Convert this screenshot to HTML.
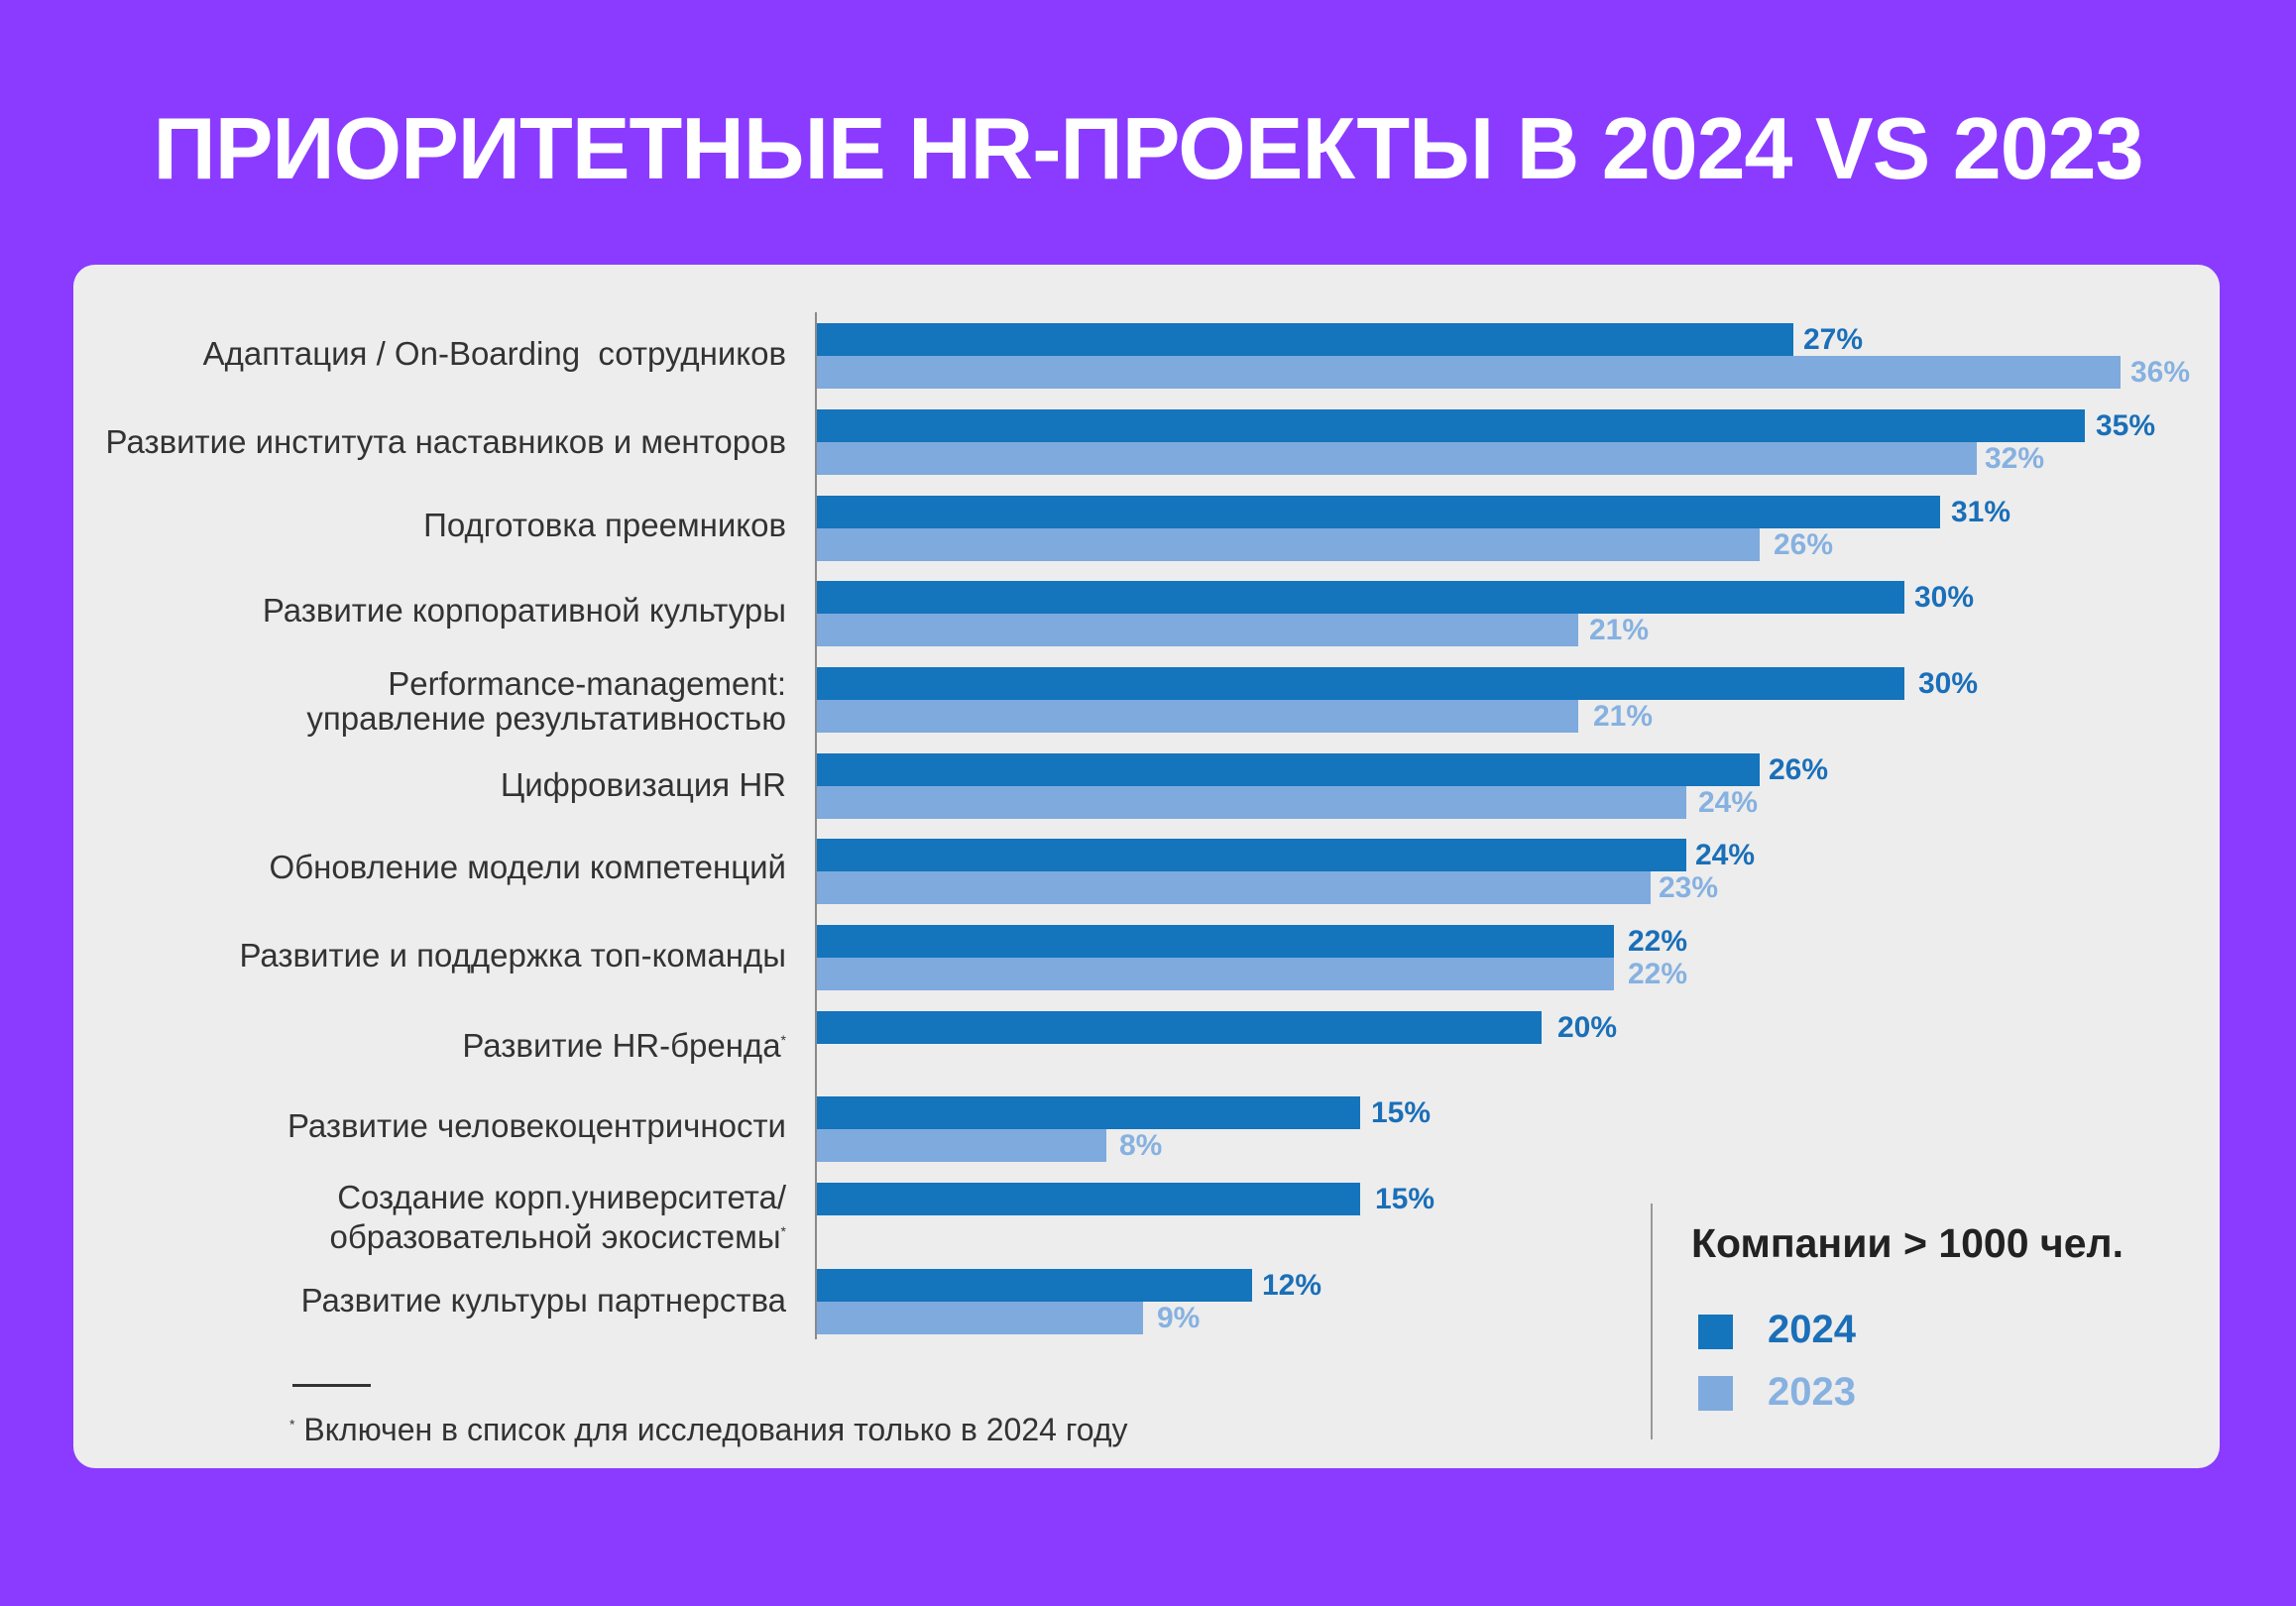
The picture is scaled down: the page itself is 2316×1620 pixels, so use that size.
<!DOCTYPE html>
<html><head><meta charset="utf-8"><style>
body{margin:0;width:2316px;height:1620px;background:#8a3bff;position:relative;overflow:hidden;font-family:"Liberation Sans","DejaVu Sans",sans-serif}
.t{position:absolute;left:0;width:2316px;top:95px;text-align:center;color:#fff;font-weight:bold;font-size:88px;letter-spacing:-1px;line-height:110px}
.card{position:absolute;left:74px;top:267px;width:2165px;height:1214px;background:#ededed;border-radius:22px}
.ax{position:absolute;left:822px;top:315px;width:2px;height:1036px;background:#8a8a8a}
.b{position:absolute;left:824px;height:33px}
.d{background:#1474bc}.l{background:#7eaade}
.v{position:absolute;font-weight:bold;font-size:30px;line-height:33px}
.vd{color:#1a6fb8}.vl{color:#86b1e0}
.lb{position:absolute;right:1523px;text-align:right;color:#333;font-size:33px;line-height:35px;white-space:nowrap}
</style></head><body>
<div class="t">ПРИОРИТЕТНЫЕ HR-ПРОЕКТЫ В 2024 VS 2023</div>
<div class="card"></div>
<div class="ax"></div>

<div class="lb" style="top:339px">Адаптация / On-Boarding&nbsp; сотрудников</div>
<div class="b d" style="top:326px;width:985px"></div><div class="v vd" style="top:326px;left:1819px">27%</div>
<div class="b l" style="top:359px;width:1315px"></div><div class="v vl" style="top:359px;left:2149px">36%</div>

<div class="lb" style="top:428px">Развитие института наставников и менторов</div>
<div class="b d" style="top:413px;width:1279px"></div><div class="v vd" style="top:413px;left:2114px">35%</div>
<div class="b l" style="top:446px;width:1170px"></div><div class="v vl" style="top:446px;left:2002px">32%</div>

<div class="lb" style="top:512px">Подготовка преемников</div>
<div class="b d" style="top:500px;width:1133px"></div><div class="v vd" style="top:500px;left:1968px">31%</div>
<div class="b l" style="top:533px;width:951px"></div><div class="v vl" style="top:533px;left:1789px">26%</div>

<div class="lb" style="top:598px">Развитие корпоративной культуры</div>
<div class="b d" style="top:586px;width:1097px"></div><div class="v vd" style="top:586px;left:1931px">30%</div>
<div class="b l" style="top:619px;width:768px"></div><div class="v vl" style="top:619px;left:1603px">21%</div>

<div class="lb" style="top:672px">Performance-management:<br>управление результативностью</div>
<div class="b d" style="top:673px;width:1097px"></div><div class="v vd" style="top:673px;left:1935px">30%</div>
<div class="b l" style="top:706px;width:768px"></div><div class="v vl" style="top:706px;left:1607px">21%</div>

<div class="lb" style="top:774px">Цифровизация HR</div>
<div class="b d" style="top:760px;width:951px"></div><div class="v vd" style="top:760px;left:1784px">26%</div>
<div class="b l" style="top:793px;width:877px"></div><div class="v vl" style="top:793px;left:1713px">24%</div>

<div class="lb" style="top:857px">Обновление модели компетенций</div>
<div class="b d" style="top:846px;width:877px"></div><div class="v vd" style="top:846px;left:1710px">24%</div>
<div class="b l" style="top:879px;width:841px"></div><div class="v vl" style="top:879px;left:1673px">23%</div>

<div class="lb" style="top:946px">Развитие и поддержка топ-команды</div>
<div class="b d" style="top:933px;width:804px"></div><div class="v vd" style="top:933px;left:1642px">22%</div>
<div class="b l" style="top:966px;width:804px"></div><div class="v vl" style="top:966px;left:1642px">22%</div>

<div class="lb" style="top:1032px">Развитие HR-бренда<sup style="font-size:14px">*</sup></div>
<div class="b d" style="top:1020px;width:731px"></div><div class="v vd" style="top:1020px;left:1571px">20%</div>

<div class="lb" style="top:1118px">Развитие человекоцентричности</div>
<div class="b d" style="top:1106px;width:548px"></div><div class="v vd" style="top:1106px;left:1383px">15%</div>
<div class="b l" style="top:1139px;width:292px"></div><div class="v vl" style="top:1139px;left:1129px">8%</div>

<div class="lb" style="top:1190px">Создание корп.университета/<br>образовательной экосистемы<sup style="font-size:14px">*</sup></div>
<div class="b d" style="top:1193px;width:548px"></div><div class="v vd" style="top:1193px;left:1387px">15%</div>

<div class="lb" style="top:1294px">Развитие культуры партнерства</div>
<div class="b d" style="top:1280px;width:439px"></div><div class="v vd" style="top:1280px;left:1273px">12%</div>
<div class="b l" style="top:1313px;width:329px"></div><div class="v vl" style="top:1313px;left:1167px">9%</div>

<div style="position:absolute;left:295px;top:1396px;width:79px;height:3px;background:#333"></div>
<div style="position:absolute;left:292px;top:1424px;font-size:32px;color:#333"><sup style="font-size:14px">*</sup> Включен в список для исследования только в 2024 году</div>

<div style="position:absolute;left:1665px;top:1214px;width:2px;height:238px;background:#999"></div>
<div style="position:absolute;left:1706px;top:1231px;font-size:41px;font-weight:bold;color:#222">Компании &gt; 1000 чел.</div>
<div style="position:absolute;left:1713px;top:1326px;width:35px;height:35px;background:#1474bc"></div>
<div style="position:absolute;left:1783px;top:1319px;font-size:40px;font-weight:bold;color:#1a6fb8">2024</div>
<div style="position:absolute;left:1713px;top:1388px;width:35px;height:35px;background:#7eaade"></div>
<div style="position:absolute;left:1783px;top:1382px;font-size:40px;font-weight:bold;color:#86b1e0">2023</div>
</body></html>
